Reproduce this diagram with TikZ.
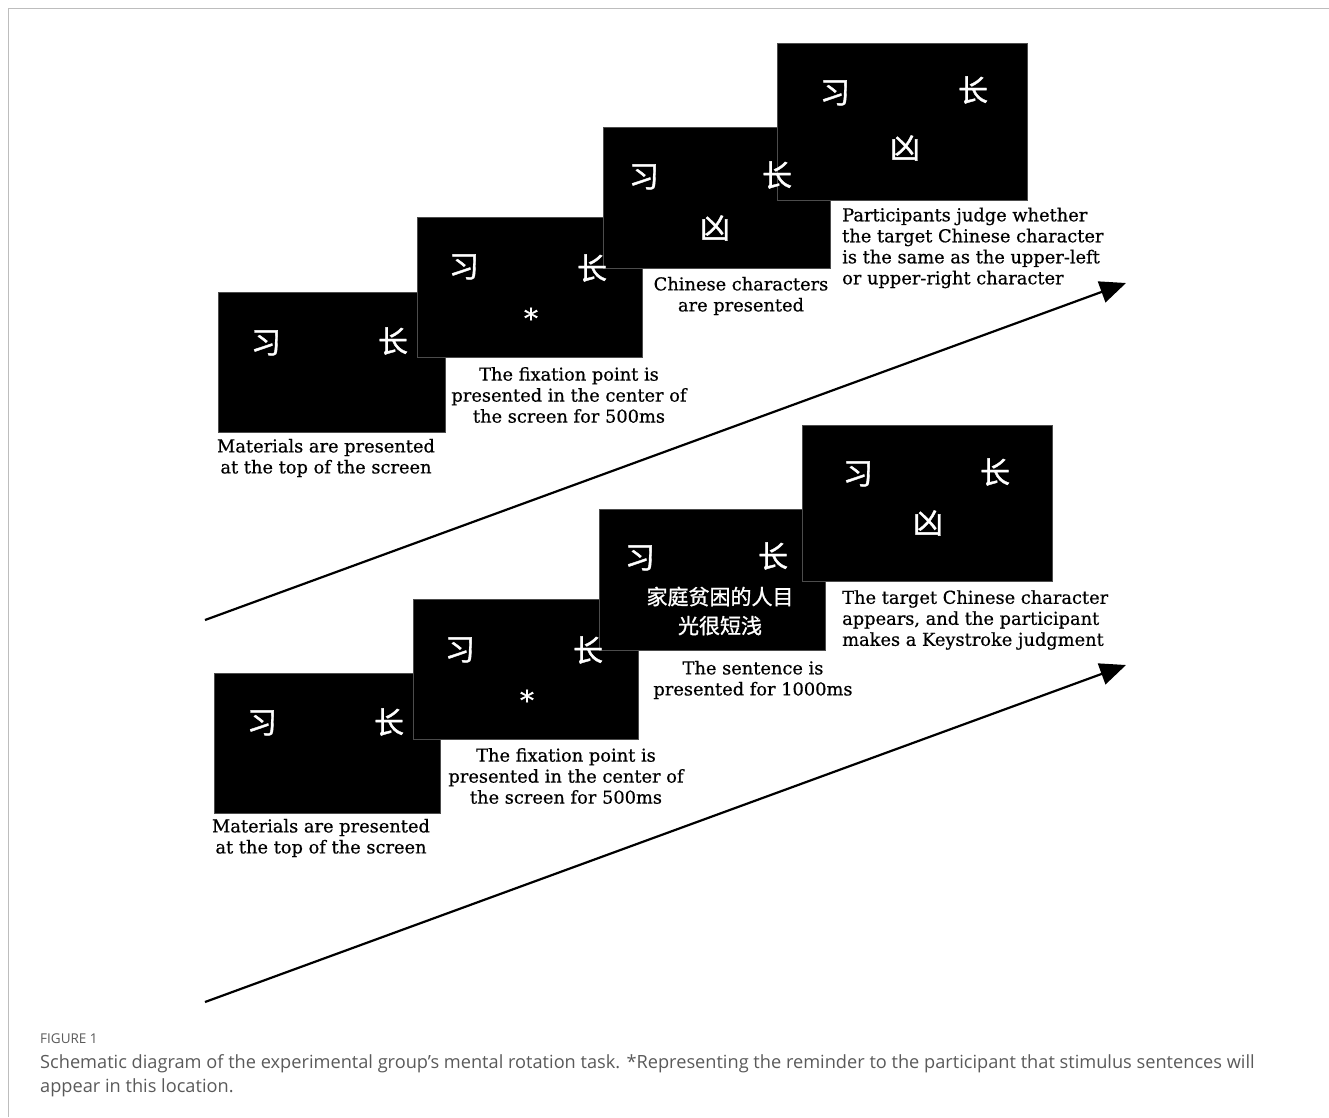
\documentclass[tikz,border=0pt]{standalone}
\usepackage{fontspec}
\setmainfont{DejaVu Serif}
\newfontfamily\descfont{DejaVu Serif}[FakeBold=0.6]
\newfontfamily\capfont{Open Sans}
\newfontfamily\cjk{Noto Sans CJK SC}[FakeBold=1.2]
\usetikzlibrary{arrows.meta}
\definecolor{framegray}{HTML}{BDBDBD}
\definecolor{capgray}{HTML}{5A5A5A}
\begin{document}
\begin{tikzpicture}[x=1pt,y=-1pt,
  screen/.style={fill=black,draw=black!70,line width=0.6pt},
  glyph/.style={text=white,inner sep=0,font=\cjk\fontsize{30}{30}\selectfont},
  sent/.style={text=white,inner sep=0,align=center,font=\cjk\fontsize{21}{29}\selectfont},
  star/.style={text=white,inner sep=0,font=\descfont\fontsize{28}{28}\selectfont},
  desc/.style={inner sep=0,align=center,font=\descfont\fontsize{17.8}{21}\selectfont},
  descl/.style={inner sep=0,align=left,anchor=west,font=\descfont\fontsize{17.8}{21}\selectfont},
  timeline/.style={line width=2.2pt,-{Triangle[length=26pt,width=22pt]}}]
\useasboundingbox (0,0) rectangle (1329,1117);
% frame
\draw[framegray,line width=1pt] (8,1117) -- (8,8) -- (1329,8);
% ---------- top sequence ----------
\fill[screen] (218,292) rectangle (445,432);
\fill[screen] (417,217) rectangle (642,357);
\fill[screen] (603,127) rectangle (830,268);
\fill[screen] (777,43) rectangle (1027,200);
\node[glyph] (a1) at (266,343) {习};
\node[glyph] (a2) at (393,341) {长};
\node[glyph] (b1) at (464,267) {习};
\node[glyph] (b2) at (592,268) {长};
\node[star]  (bs) at (531,318) {*};
\node[glyph] (c1) at (644,177) {习};
\node[glyph] (c2) at (777,175) {长};
\node[glyph] (c3) at (715,228) {凶};
\node[glyph] (d1) at (835,93) {习};
\node[glyph] (d2) at (973,90) {长};
\node[glyph] (d3) at (905,148) {凶};
\node[desc] (t1) at (326,458) {Materials are presented\\at the top of the screen};
\node[desc] (t2) at (569,395) {The fixation point is\\presented in the center of\\the screen for 500ms};
\node[desc] (t3) at (741,296) {Chinese characters\\are presented};
\node[descl] (t4) at (842,248) {Participants judge whether\\the target Chinese character\\is the same as the upper-left\\or upper-right character};
\coordinate (s1) at (205,620);
\coordinate (e1) at (1126,283);
\draw[timeline] (s1) -- (e1);
% ---------- bottom sequence ----------
\fill[screen] (214,673) rectangle (440,813);
\fill[screen] (413,599) rectangle (638,739);
\fill[screen] (599,509) rectangle (825,650);
\fill[screen] (802,425) rectangle (1052,581);
\node[glyph] (f1) at (262,723) {习};
\node[glyph] (f2) at (389,722) {长};
\node[glyph] (g1) at (460,650) {习};
\node[glyph] (g2) at (588,650) {长};
\node[star]  (gs) at (527,700) {*};
\node[glyph] (h1) at (640,558) {习};
\node[glyph] (h2) at (773,556) {长};
\node[sent]  (hs) at (720,611) {家庭贫困的人目\\光很短浅};
\node[glyph] (k1) at (858,474) {习};
\node[glyph] (k2) at (995,472) {长};
\node[glyph] (k3) at (928,523) {凶};
\node[desc] (t5) at (321,838) {Materials are presented\\at the top of the screen};
\node[desc] (t6) at (566,776) {The fixation point is\\presented in the center of\\the screen for 500ms};
\node[desc] (t7) at (753,680) {The sentence is\\presented for 1000ms};
\node[descl] (t8) at (842,620) {The target Chinese character\\appears, and the participant\\makes a Keystroke judgment};
\coordinate (s2) at (205,1002);
\coordinate (e2) at (1126,665);
\draw[timeline] (s2) -- (e2);
% ---------- caption ----------
\node[anchor=base west,inner sep=0,text=capgray,font=\capfont\fontsize{13.5}{15}\selectfont] (fig) at (40,1043) {FIGURE 1};
\node[anchor=north west,inner sep=0,align=left,text=capgray,font=\capfont\fontsize{18.2}{24}\selectfont] (cap) at (40,1054) {Schematic diagram of the experimental group’s mental rotation task. *Representing the reminder to the participant that stimulus sentences will\\appear in this location.};
\end{tikzpicture}
\end{document}
